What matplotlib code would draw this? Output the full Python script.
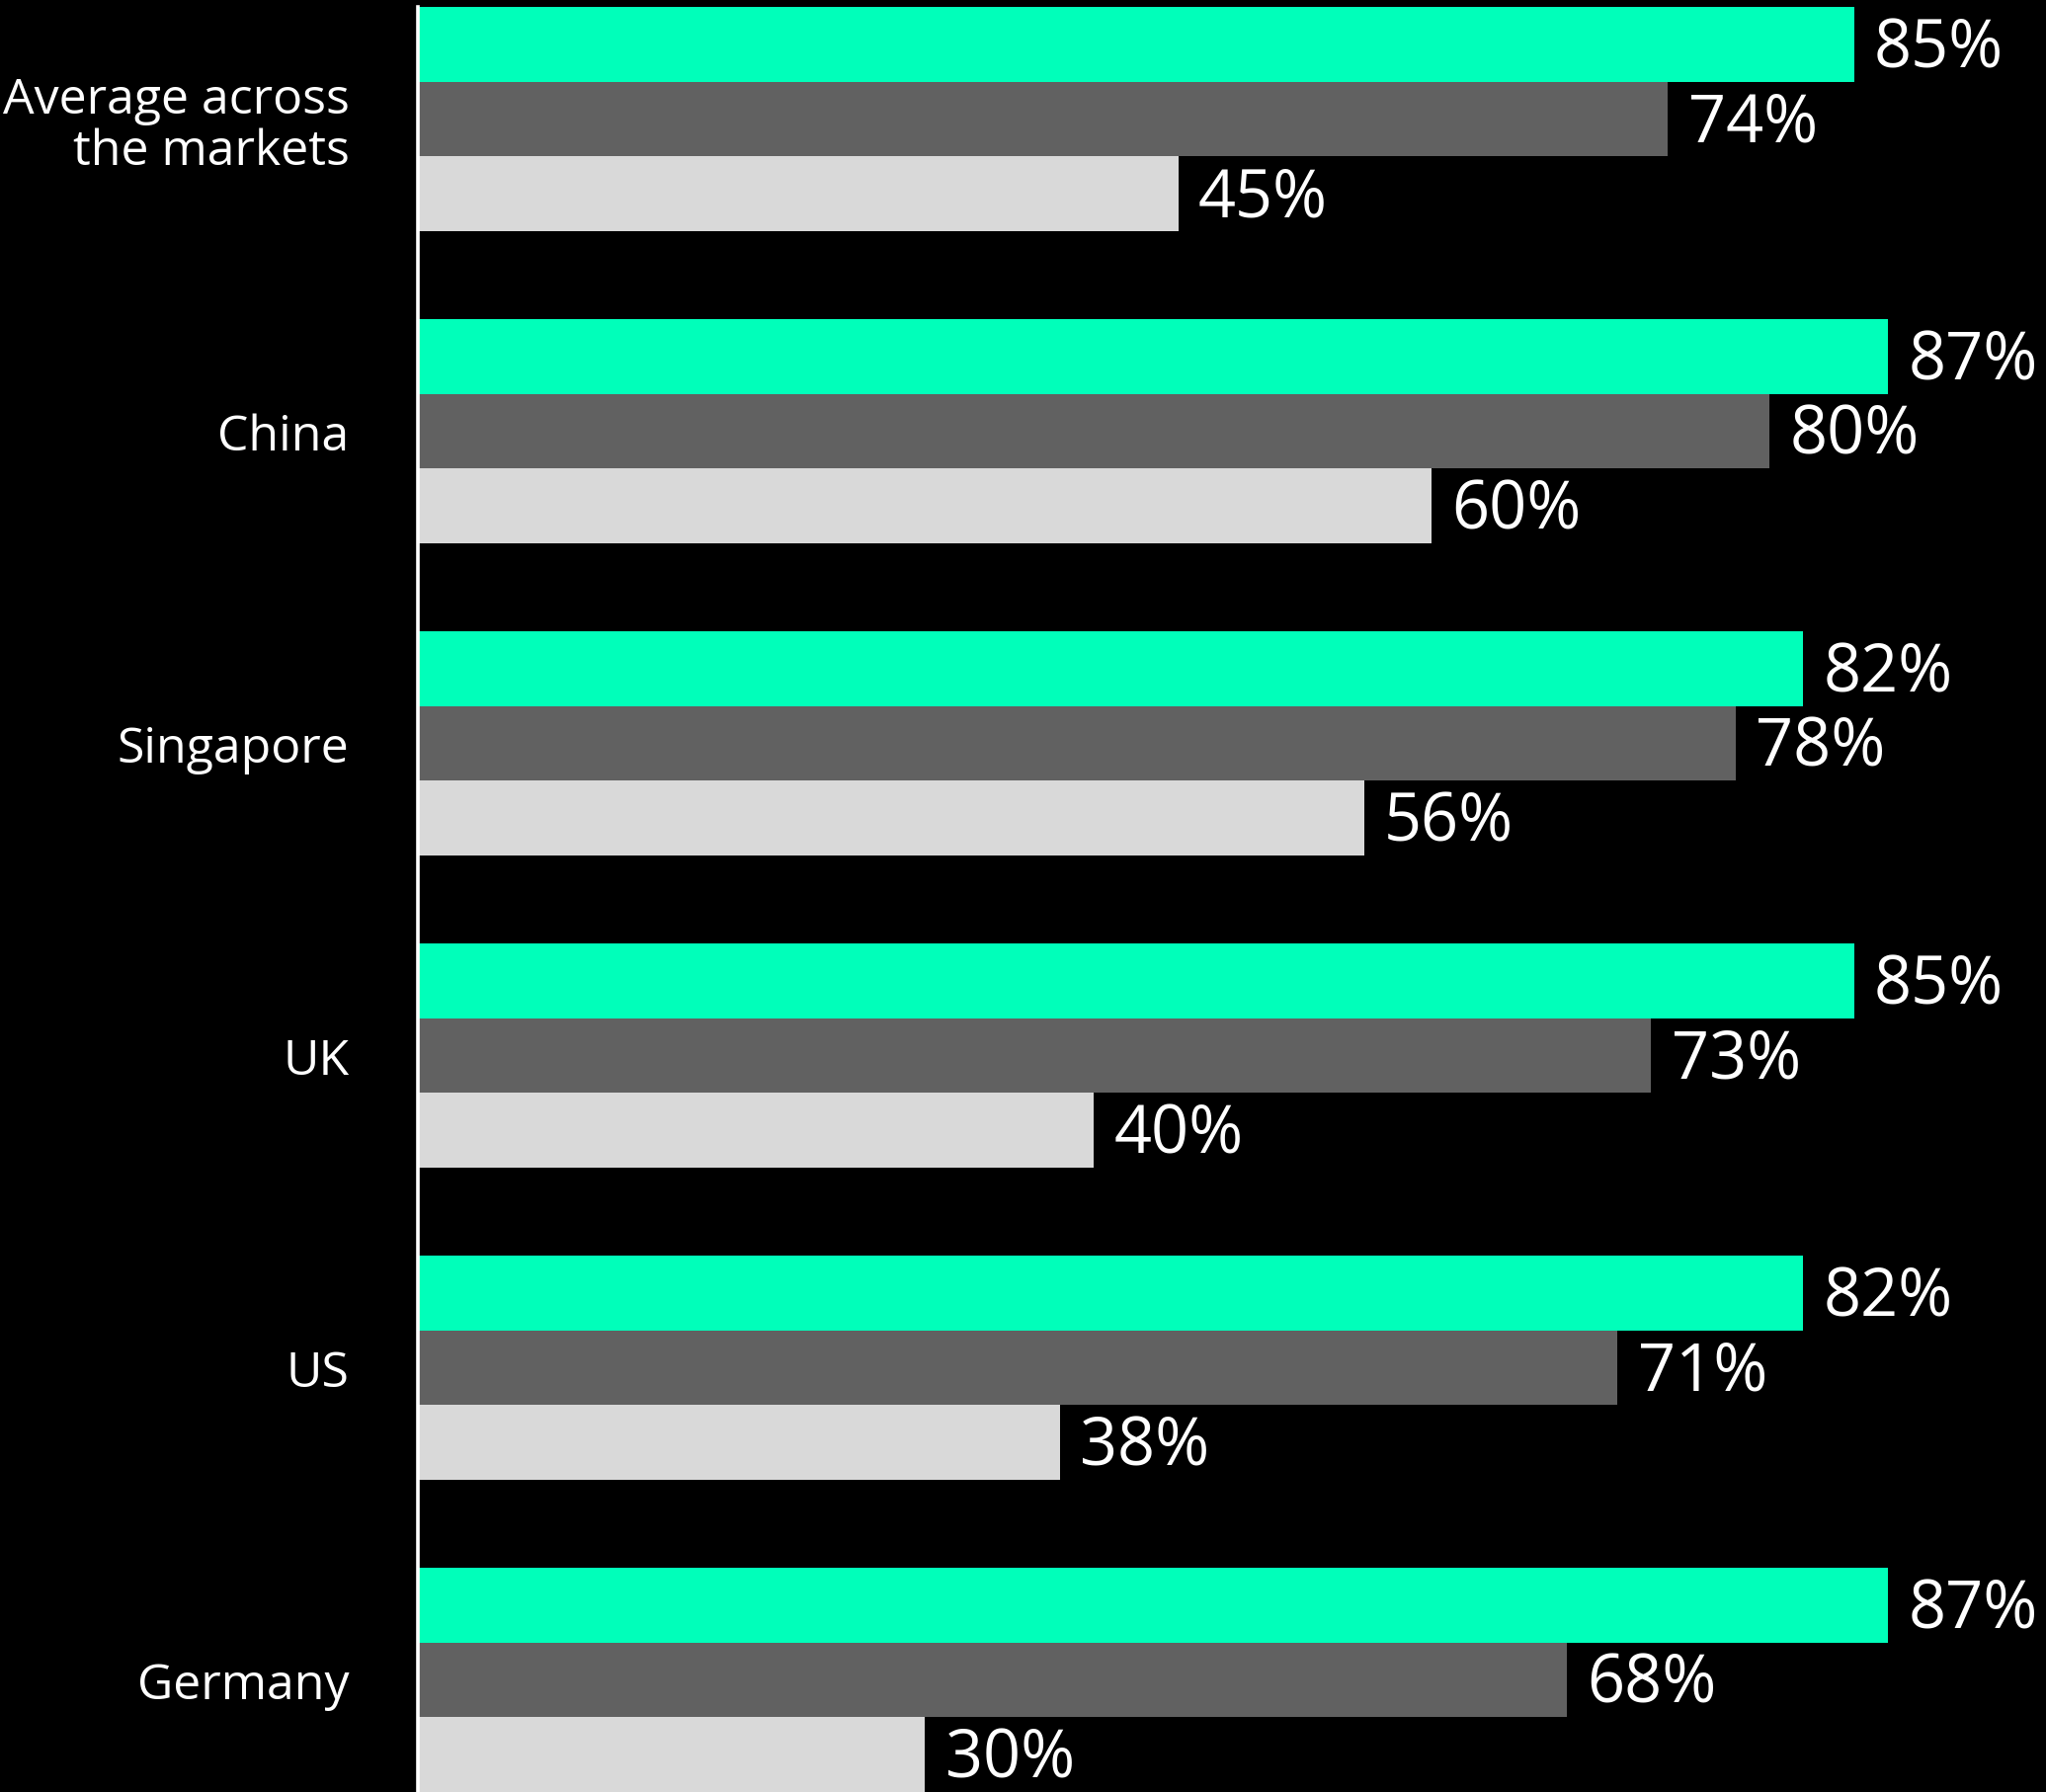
import numpy as np
import matplotlib.pyplot as plt

# markets, top to bottom
markets = ['Average across\nthe markets', 'China', 'Singapore', 'UK', 'US', 'Germany']

# three answers per market (percent)
top_share = [85, 87, 82, 85, 82, 87]
mid_share = [74, 80, 78, 73, 71, 68]
low_share = [45, 60, 56, 40, 38, 30]

colors = ['#00FFBA', '#616161', '#D9D9D9']

plt.rcParams['font.family'] = ['Open Sans', 'DejaVu Sans']

fig = plt.figure(figsize=(20.71, 18.15), dpi=100, facecolor='black')
ax = fig.add_axes([423 / 2071, 0, 1 - 423 / 2071, 1 - 8 / 1815])
ax.set_facecolor('black')

group_step = 316 / 75.5
centers = np.arange(len(markets)) * group_step
series = [top_share, mid_share, low_share]

for k, (vals, col) in enumerate(zip(series, colors)):
    ys = centers + (k - 1)
    ax.barh(ys, vals, height=1.0, color=col, linewidth=0, zorder=2)
    for y, v in zip(ys, vals):
        ax.text(v + 1.2, y + 0.06, f'{v}%', color='white', fontsize=48,
                va='center', ha='left', zorder=3)

ax.set_xlim(0, 1648 / 17.1)
ax.set_ylim(centers[-1] + 1.5, -1.5)

ax.set_yticks(centers)
ax.set_yticklabels(markets, color='white', fontsize=36, linespacing=1.05)
ax.tick_params(axis='y', length=0, pad=50)
ax.set_xticks([])

for side in ['top', 'right', 'bottom']:
    ax.spines[side].set_visible(False)
ax.spines['left'].set_color('white')
ax.spines['left'].set_linewidth(2.6)
ax.spines['left'].set_zorder(4)

fig.savefig('out.png', dpi=100, facecolor='black')
